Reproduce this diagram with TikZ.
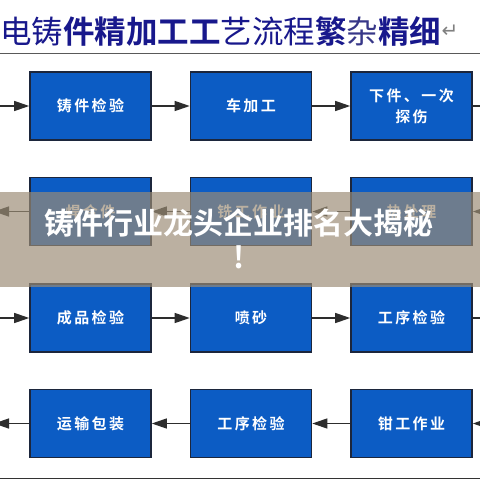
\documentclass[tikz,border=0pt]{standalone}
\usepackage{fontspec}
\usetikzlibrary{arrows.meta}
\newfontfamily\cjk{Noto Sans CJK SC}
\newfontfamily\cjkb{Noto Sans CJK SC Bold}
\newfontfamily\symb{DejaVu Sans}
\definecolor{boxblue}{RGB}{12,92,196}
\definecolor{boxedge}{RGB}{28,38,60}
\definecolor{arrowgray}{RGB}{45,45,45}
\definecolor{navy}{RGB}{24,24,140}
\definecolor{band}{RGB}{155,140,117}
\tikzset{
  procbox/.style={draw=boxedge, line width=1.6pt, fill=boxblue, minimum width=121pt, minimum height=68pt,
    inner sep=0pt, text=white, align=center, font=\cjkb\fontsize{15}{21}\selectfont\addfontfeature{LetterSpace=16}},
  flow/.style={draw=arrowgray, line width=1.3pt, -{Triangle[length=15pt,width=10pt]}},
  flowplain/.style={draw=arrowgray, line width=1.3pt},
}
\begin{document}
\begin{tikzpicture}[x=1pt,y=-1pt]
\useasboundingbox (0,0) rectangle (480,480);
\fill[white] (0,0) rectangle (480,480);
% title
\node[anchor=west, inner sep=0pt, text=navy] (title) at (0,31)
  {\fontsize{31.5}{32}\selectfont\cjk 电铸\cjkb 件精加工工\cjk 艺流程\cjkb 繁\cjk\color{navy!70!gray}杂\color{navy}\cjkb 精细};
\node[anchor=west, inner sep=0pt, text=gray] (ret) at (title.east) {\fontsize{20}{20}\selectfont\symb ↵};
\draw[gray!70!black, line width=1pt] (0,53) -- (480,53);
\draw[black!80, line width=1.2pt] (0,478.5) -- (480,478.5);
% row 1
\node[procbox] (a1) at (90.5,106) {铸件检验};
\node[procbox] (a2) at (251,106) {车加工};
\node[procbox] (a3) at (411.5,106) {下件、一次\\探伤};
% row 2
\node[procbox] (b1) at (90.5,211.5) {焊合件};
\node[procbox] (b2) at (251,211.5) {铣工作业};
\node[procbox] (b3) at (411.5,211.5) {热处理};
% row 3
\node[procbox] (c1) at (90.5,318) {成品检验};
\node[procbox] (c2) at (251,318) {喷砂};
\node[procbox] (c3) at (411.5,318) {工序检验};
% row 4
\node[procbox] (d1) at (90.5,423.5) {运输包装};
\node[procbox] (d2) at (251,423.5) {工序检验};
\node[procbox] (d3) at (411.5,423.5) {钳工作业};
% free ends
\coordinate (a0) at (-5,106);
\coordinate (a4) at (485,106);
\coordinate (b0) at (-6,211.5);
\coordinate (b4) at (485,211.5);
\coordinate (c0) at (-5,318);
\coordinate (c4) at (485,318);
\coordinate (d0) at (-6,423.5);
\coordinate (d4) at (485,423.5);
% arrows
\draw[flow] (a0) -- (a1.west);
\draw[flow] (a1) -- (a2);
\draw[flow] (a2) -- (a3);
\draw[flowplain] (a3.east) -- (a4);
\draw[flow] (b4) -- (b3.east);
\draw[flow] (b3) -- (b2);
\draw[flow] (b2) -- (b1);
\draw[flow] (b1.west) -- (b0);
\draw[flow] (c0) -- (c1.west);
\draw[flow] (c1) -- (c2);
\draw[flow] (c2) -- (c3);
\draw[flowplain] (c3.east) -- (c4);
\draw[flow] (d4) -- (d3.east);
\draw[flow] (d3) -- (d2);
\draw[flow] (d2) -- (d1);
\draw[flow] (d1.west) -- (d0);
% overlay band
\fill[band, fill opacity=0.68] (0,192) rectangle (480,287);
\node[text=white, align=center, inner sep=0pt, font=\cjkb\fontsize{30}{34}\selectfont] (banner) at (239,239)
  {铸件行业龙头企业排名大揭秘\\!};
\end{tikzpicture}
\end{document}
